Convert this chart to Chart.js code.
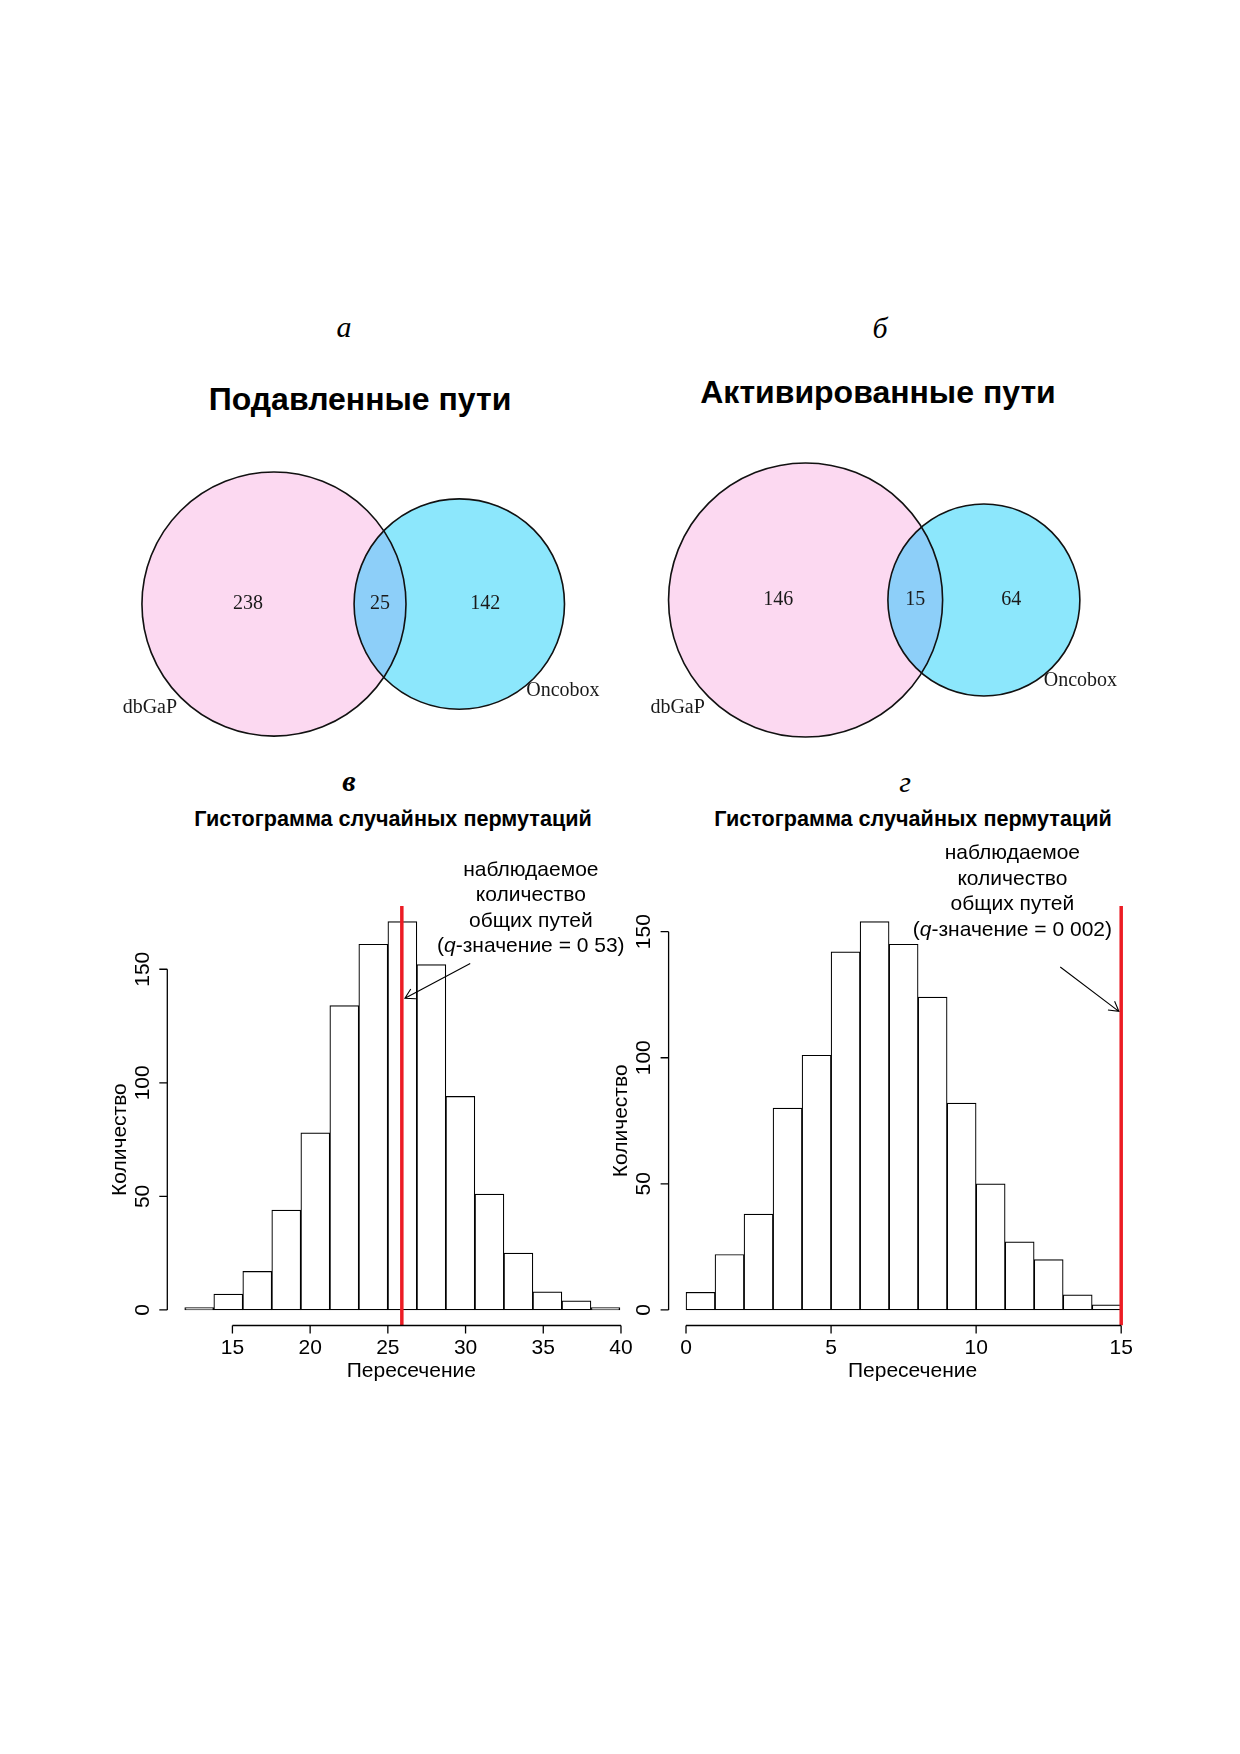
<!DOCTYPE html>
<html lang="ru">
<head>
<meta charset="UTF-8">
<script src="https://cdn.jsdelivr.net/npm/chart.js"></script>
<title>Подавленные и активированные пути</title>
<style>
  body { margin: 0; width: 1240px; height: 1754px; background: #fff; position: relative; overflow: hidden; }
  canvas { position: absolute; }
  .lbl { position: absolute; transform: translate(-50%, -50%); white-space: nowrap; color: #000; }
  .letter { font: italic 30px "Liberation Serif", "DejaVu Serif", serif; }
  .vtitle { font: bold 32px "Liberation Sans", Arial, sans-serif; }
  .htitle { font: bold 21.6px "Liberation Sans", Arial, sans-serif; }
</style>
</head>
<body>
<div class="lbl letter" style="left:344px;top:327px">а</div>
<div class="lbl letter" style="left:880px;top:328px">б</div>
<div class="lbl letter" style="left:349px;top:781px;font-weight:bold">в</div>
<div class="lbl letter" style="left:905px;top:782px">г</div>
<div class="lbl vtitle" style="left:360px;top:399px">Подавленные пути</div>
<div class="lbl vtitle" style="left:878px;top:392px">Активированные пути</div>
<div class="lbl htitle" style="left:393px;top:819px">Гистограмма случайных пермутаций</div>
<div class="lbl htitle" style="left:913px;top:819px">Гистограмма случайных пермутаций</div>

<canvas id="venn1" width="540" height="360" style="left:100px;top:420px"></canvas>
<canvas id="venn2" width="520" height="360" style="left:640px;top:420px"></canvas>
<canvas id="hist1" width="600" height="600" style="left:60px;top:820px"></canvas>
<canvas id="hist2" width="600" height="600" style="left:580px;top:820px"></canvas>

<script>
// --- данные: диаграммы Венна (только A, A и B, только B) ---
const vennSets = ['dbGaP', 'Oncobox'];
const venn1Counts = [238, 25, 142];
const venn2Counts = [146, 15, 64];

// --- данные: гистограммы случайных пермутаций ---
const hist1Breaks = [11.93, 13.8, 15.67, 17.53, 19.4, 21.27, 23.13, 25, 26.87, 28.73, 30.6, 32.47, 34.33, 36.2, 38.07, 39.93];
const hist1Counts = [1, 7, 17, 44, 78, 134, 161, 171, 152, 94, 51, 25, 8, 4, 1];
const hist1Observed = 25.9;
const hist1XTicks = [15, 20, 25, 30, 35, 40];
const hist1Q = '0 53';

const hist2Breaks = [0, 1, 2, 3, 4, 5, 6, 7, 8, 9, 10, 11, 12, 13, 14, 15];
const hist2Counts = [7, 22, 38, 80, 101, 142, 154, 145, 124, 82, 50, 27, 20, 6, 2];
const hist2Observed = 15;
const hist2XTicks = [0, 5, 10, 15];
const hist2Q = '0 002';

const histYTicks = [0, 50, 100, 150];
const noteLines = ['наблюдаемое', 'количество', 'общих путей'];
const xTitle = 'Пересечение';
const yTitle = 'Количество';

const SANS = '"Liberation Sans", Arial, sans-serif';
const SERIF = '"Liberation Serif", "Times New Roman", serif';

// площадь пересечения двух кругов
function lensArea(r1, r2, d) {
  if (d >= r1 + r2) return 0;
  if (d <= Math.abs(r1 - r2)) return Math.PI * Math.min(r1, r2) ** 2;
  const a1 = Math.acos((d * d + r1 * r1 - r2 * r2) / (2 * d * r1));
  const a2 = Math.acos((d * d + r2 * r2 - r1 * r1) / (2 * d * r2));
  return r1 * r1 * (a1 - Math.sin(2 * a1) / 2) + r2 * r2 * (a2 - Math.sin(2 * a2) / 2);
}

// круги с площадями, пропорциональными размерам множеств
function vennGeometry(counts) {
  const r1 = Math.sqrt((counts[0] + counts[1]) / Math.PI);
  const r2 = Math.sqrt((counts[1] + counts[2]) / Math.PI);
  let lo = Math.abs(r1 - r2), hi = r1 + r2;
  for (let i = 0; i < 60; i++) {
    const mid = (lo + hi) / 2;
    if (lensArea(r1, r2, mid) > counts[1]) lo = mid; else hi = mid;
  }
  const d = (lo + hi) / 2;
  return {
    r1, r2, d,
    labels: [(-r1 + d - r2) / 2, (d - r2 + r1) / 2, (r1 + d + r2) / 2]
  };
}

const vennPlugin = {
  id: 'venn',
  beforeDatasetsDraw(chart, args, o) {
    const { ctx, scales: { x, y } } = chart;
    const g = o.geo;
    const cy = y.getPixelForValue(0);
    const c1 = x.getPixelForValue(0), c2 = x.getPixelForValue(g.d);
    const kx = x.getPixelForValue(1) - x.getPixelForValue(0);
    const ky = y.getPixelForValue(0) - y.getPixelForValue(1);
    const circ = (cx, r) => { ctx.beginPath(); ctx.ellipse(cx, cy, r * kx, r * ky, 0, 0, Math.PI * 2); };
    ctx.save();
    circ(c1, g.r1); ctx.fillStyle = '#fcd9f1'; ctx.fill();
    circ(c2, g.r2); ctx.fillStyle = '#8ce7fc'; ctx.fill();
    ctx.save();
    circ(c1, g.r1); ctx.clip();
    circ(c2, g.r2); ctx.fillStyle = '#8dcff9'; ctx.fill();
    ctx.restore();
    ctx.strokeStyle = '#111'; ctx.lineWidth = 1.6;
    circ(c1, g.r1); ctx.stroke();
    circ(c2, g.r2); ctx.stroke();
    ctx.restore();
  },
  afterDatasetsDraw(chart, args, o) {
    const { ctx, scales: { x, y } } = chart;
    const g = o.geo;
    const meta = chart.getDatasetMeta(0);
    ctx.save();
    ctx.fillStyle = '#1a1a1a';
    ctx.font = '20px ' + SERIF;
    ctx.textAlign = 'center'; ctx.textBaseline = 'middle';
    meta.data.forEach((pt, i) => ctx.fillText(String(o.counts[i]), pt.x, pt.y));
    // подписи множеств снаружи кругов
    const kx = x.getPixelForValue(1) - x.getPixelForValue(0);
    const cy = y.getPixelForValue(0);
    const cats = [
      { cx: x.getPixelForValue(0), r: g.r1 * kx, ang: -140 },
      { cx: x.getPixelForValue(g.d), r: g.r2 * kx, ang: -40 }
    ];
    cats.forEach((c, i) => {
      const a = c.ang * Math.PI / 180, dist = c.r + o.catGap;
      ctx.fillText(o.sets[i], c.cx + dist * Math.cos(a), cy - dist * Math.sin(a));
    });
    ctx.restore();
  }
};

function makeVenn(id, counts, xr, yr, padding) {
  const geo = vennGeometry(counts);
  return new Chart(document.getElementById(id), {
    type: 'scatter',
    data: { datasets: [{ data: geo.labels.map(v => ({ x: v, y: 0 })), pointRadius: 0 }] },
    options: {
      responsive: false, animation: false, events: [],
      layout: { padding },
      plugins: {
        legend: { display: false }, tooltip: { enabled: false },
        venn: { geo, counts, sets: vennSets, catGap: 30 }
      },
      scales: {
        x: { type: 'linear', display: false, min: xr[0], max: xr[1] },
        y: { type: 'linear', display: false, min: yr[0], max: yr[1] }
      }
    },
    plugins: [vennPlugin]
  });
}

makeVenn('venn1', venn1Counts, [-10.67, 23.98], [-11.50, 11.37], { left: 20, right: 20, top: 20, bottom: 10 });
makeVenn('venn2', venn2Counts, [-8.65, 17.47], [-8.88, 8.36], { left: 0, right: 20, top: 20, bottom: 10 });

// оси в стиле R: линия только между крайними делениями
const rAxesPlugin = {
  id: 'rAxes',
  afterDraw(chart, args, o) {
    const { ctx, chartArea: a, scales: { x, y } } = chart;
    const xt = x.ticks.map(t => t.value), yt = y.ticks.map(t => t.value);
    ctx.save();
    ctx.strokeStyle = '#000'; ctx.fillStyle = '#000'; ctx.lineWidth = 1.3;
    ctx.beginPath();
    ctx.moveTo(x.getPixelForValue(xt[0]), a.bottom);
    ctx.lineTo(x.getPixelForValue(xt[xt.length - 1]), a.bottom);
    xt.forEach(v => { const p = x.getPixelForValue(v); ctx.moveTo(p, a.bottom); ctx.lineTo(p, a.bottom + 8); });
    ctx.moveTo(a.left, y.getPixelForValue(yt[0]));
    ctx.lineTo(a.left, y.getPixelForValue(yt[yt.length - 1]));
    yt.forEach(v => { const p = y.getPixelForValue(v); ctx.moveTo(a.left, p); ctx.lineTo(a.left - 8, p); });
    ctx.stroke();

    ctx.font = '21px ' + SANS;
    ctx.textAlign = 'center'; ctx.textBaseline = 'middle';
    xt.forEach(v => ctx.fillText(String(v), x.getPixelForValue(v), a.bottom + 23));
    ctx.fillText(xTitle, (a.left + a.right) / 2 + 9, a.bottom + 46);
    yt.forEach(v => {
      ctx.save(); ctx.translate(a.left - 24, y.getPixelForValue(v)); ctx.rotate(-Math.PI / 2);
      ctx.fillText(String(v), 0, 0); ctx.restore();
    });
    ctx.save(); ctx.translate(a.left - 47, y.getPixelForValue((yt[0] + yt[yt.length - 1]) / 2)); ctx.rotate(-Math.PI / 2);
    ctx.fillText(yTitle, 0, 0); ctx.restore();

    // подпись и стрелка к наблюдаемому значению
    const n = o.note;
    const nx = x.getPixelForValue(n.x), ny = y.getPixelForValue(n.y);
    noteLines.forEach((t, i) => ctx.fillText(t, nx, ny + i * 25.5));
    const parts = [['(', '21px ' + SANS], ['q', 'italic 21px ' + SANS], ['-значение = ' + n.q + ')', '21px ' + SANS]];
    const widths = parts.map(p => { ctx.font = p[1]; return ctx.measureText(p[0]).width; });
    let px = nx - widths.reduce((s, w) => s + w, 0) / 2;
    ctx.textAlign = 'left';
    parts.forEach((p, i) => { ctx.font = p[1]; ctx.fillText(p[0], px, ny + 3 * 25.5); px += widths[i]; });

    const ax0 = x.getPixelForValue(n.arrow[0][0]), ay0 = y.getPixelForValue(n.arrow[0][1]);
    const ax1 = x.getPixelForValue(n.arrow[1][0]), ay1 = y.getPixelForValue(n.arrow[1][1]);
    const ang = Math.atan2(ay1 - ay0, ax1 - ax0), hl = 11;
    ctx.lineWidth = 1.1;
    ctx.beginPath();
    ctx.moveTo(ax0, ay0); ctx.lineTo(ax1, ay1);
    ctx.moveTo(ax1 - hl * Math.cos(ang - Math.PI / 6), ay1 - hl * Math.sin(ang - Math.PI / 6));
    ctx.lineTo(ax1, ay1);
    ctx.lineTo(ax1 - hl * Math.cos(ang + Math.PI / 6), ay1 - hl * Math.sin(ang + Math.PI / 6));
    ctx.stroke();
    ctx.restore();
  }
};

function makeHist(id, breaks, counts, observed, xTicks, note, padding) {
  const top = Math.max(...counts);
  const span = breaks[breaks.length - 1] - breaks[0];
  const yMin = -0.04 * top, yMax = 1.04 * top;
  const bars = counts.map((c, i) => ({ x: (breaks[i] + breaks[i + 1]) / 2, y: c }));
  return new Chart(document.getElementById(id), {
    type: 'bar',
    data: {
      datasets: [
        {
          type: 'line', order: 0,
          data: [{ x: observed, y: yMin }, { x: observed, y: yMax }],
          borderColor: '#ec1c24', borderWidth: 3.5, pointRadius: 0
        },
        {
          order: 1, data: bars,
          backgroundColor: '#fff', borderColor: '#000', borderWidth: 1.2,
          borderSkipped: false, categoryPercentage: 1, barPercentage: 1
        }
      ]
    },
    options: {
      responsive: false, animation: false, events: [],
      layout: { padding },
      plugins: { legend: { display: false }, tooltip: { enabled: false }, rAxes: { note } },
      scales: {
        x: {
          type: 'linear', display: false, offset: false,
          min: breaks[0] - 0.04 * span, max: breaks[breaks.length - 1] + 0.04 * span,
          afterBuildTicks: s => { s.ticks = xTicks.map(v => ({ value: v })); }
        },
        y: {
          type: 'linear', display: false, min: yMin, max: yMax,
          afterBuildTicks: s => { s.ticks = histYTicks.map(v => ({ value: v })); }
        }
      }
    },
    plugins: [rAxesPlugin]
  });
}

makeHist('hist1', hist1Breaks, hist1Counts, hist1Observed, hist1XTicks,
  { x: 34.2, y: 193.7, q: hist1Q, arrow: [[30.3, 152.5], [26.1, 137.2]] },
  { left: 107.3, right: 22.7, top: 86, bottom: 94.5 });
makeHist('hist2', hist2Breaks, hist2Counts, hist2Observed, hist2XTicks,
  { x: 11.25, y: 180.9, q: hist2Q, arrow: [[12.9, 136], [14.92, 118.4]] },
  { left: 88.6, right: 41.4, top: 86, bottom: 94.5 });
</script>
</body>
</html>
